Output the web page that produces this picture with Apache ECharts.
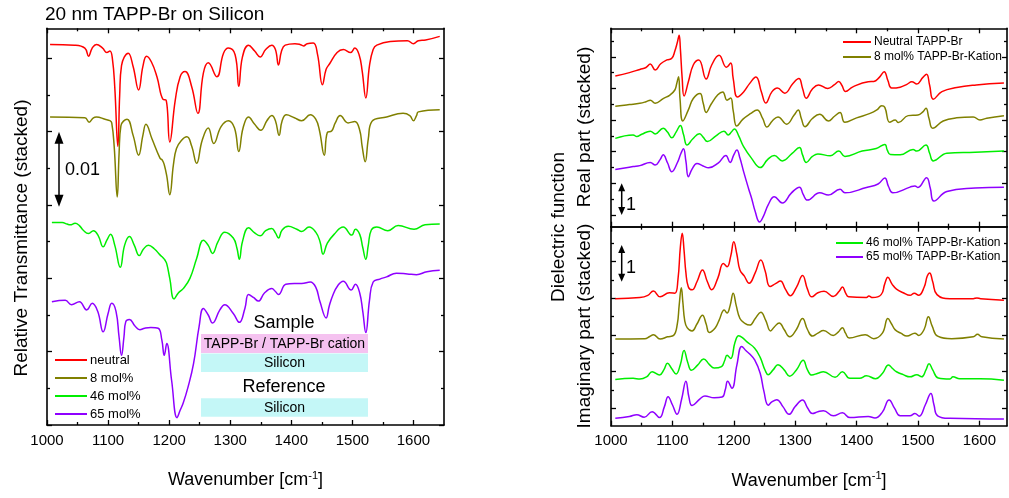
<!DOCTYPE html>
<html>
<head>
<meta charset="utf-8">
<script src="https://cdn.jsdelivr.net/npm/echarts@6/dist/echarts.min.js"></script>
<style>
  html, body { margin: 0; padding: 0; background: #fff; }
  #main { width: 1009px; height: 498px; }
</style>
</head>
<body>
<div id="main"></div>
<script>
// wavenumber ticks (cm-1)
var wnMajor = [1000, 1100, 1200, 1300, 1400, 1500, 1600];
var wnMinor = [1050, 1150, 1250, 1350, 1450, 1550];

// left: relative transmittance, stacked, in units of 0.01
var transNeutral = [[1005,5.19],[1045,5.18],[1062,5.14],[1068,5.03],[1074,5.14],[1081,5.19],[1091,5.14],[1098,5.08],[1103,5.10],[1107,5.00],[1111,4.60],[1116,3.80],[1119,4.50],[1122,4.90],[1133,5.07],[1141,4.89],[1150,4.57],[1157,4.89],[1163,5.03],[1171,4.95],[1180,4.75],[1190,4.44],[1195,4.43],[1201,3.86],[1210,4.43],[1218,4.75],[1226,4.82],[1237,4.61],[1247,4.25],[1256,4.80],[1264,4.94],[1278,4.75],[1289,5.07],[1297,5.14],[1308,5.05],[1314,4.62],[1320,5.02],[1330,5.18],[1340,5.10],[1349,5.02],[1358,5.12],[1368,5.18],[1374,5.12],[1379,4.91],[1384,5.10],[1390,5.18],[1406,5.20],[1414,5.19],[1420,5.17],[1426,5.20],[1436,5.21],[1443,5.05],[1451,4.64],[1457,4.85],[1463,4.93],[1475,5.08],[1485,5.12],[1497,5.08],[1504,5.14],[1511,5.05],[1516,4.83],[1522,4.46],[1528,4.90],[1534,5.12],[1540,5.18],[1562,5.23],[1590,5.24],[1600,5.20],[1608,5.24],[1620,5.25],[1643,5.30]];
var transMol8 = [[1005,4.20],[1062,4.19],[1069,4.13],[1076,4.19],[1081,4.20],[1095,4.17],[1103,4.15],[1106,4.12],[1110,3.80],[1115,3.11],[1118,3.70],[1121,4.08],[1131,4.17],[1141,3.95],[1150,3.68],[1157,3.95],[1162,4.10],[1172,3.90],[1185,3.64],[1189,3.61],[1192,3.55],[1196,3.40],[1201,3.14],[1207,3.55],[1212,3.77],[1220,3.88],[1229,3.93],[1237,3.80],[1245,3.57],[1254,3.88],[1264,4.05],[1273,3.84],[1285,4.07],[1297,4.15],[1307,4.05],[1314,3.73],[1321,4.05],[1330,4.20],[1340,4.10],[1350,4.02],[1360,4.15],[1368,4.22],[1374,4.15],[1380,3.95],[1385,4.15],[1392,4.23],[1405,4.19],[1417,4.15],[1431,4.23],[1440,4.17],[1446,4.02],[1454,3.68],[1459,3.99],[1466,4.01],[1472,4.12],[1480,4.22],[1493,4.12],[1504,4.14],[1512,4.02],[1516,3.80],[1521,3.59],[1526,3.90],[1532,4.14],[1556,4.20],[1583,4.25],[1594,4.22],[1600,4.15],[1605,4.22],[1608,4.27],[1643,4.30]];
var transMol46 = [[1008,2.76],[1025,2.76],[1033,2.74],[1038,2.73],[1046,2.75],[1053,2.72],[1059,2.66],[1068,2.61],[1076,2.65],[1084,2.58],[1092,2.43],[1098,2.52],[1104,2.60],[1111,2.45],[1120,2.15],[1127,2.45],[1135,2.57],[1143,2.45],[1151,2.31],[1158,2.40],[1166,2.45],[1176,2.40],[1185,2.32],[1190,2.28],[1193,2.25],[1196,2.20],[1201,2.00],[1208,1.72],[1215,1.80],[1223,1.86],[1234,2.00],[1245,2.27],[1256,2.52],[1264,2.45],[1271,2.34],[1280,2.50],[1291,2.63],[1305,2.55],[1311,2.41],[1315,2.26],[1320,2.50],[1330,2.69],[1340,2.62],[1349,2.58],[1358,2.65],[1368,2.68],[1374,2.62],[1379,2.55],[1385,2.66],[1395,2.71],[1409,2.67],[1417,2.64],[1429,2.70],[1440,2.63],[1447,2.50],[1452,2.33],[1459,2.48],[1470,2.60],[1485,2.70],[1499,2.59],[1505,2.67],[1512,2.60],[1517,2.42],[1522,2.26],[1526,2.45],[1531,2.66],[1540,2.70],[1558,2.65],[1575,2.72],[1601,2.67],[1619,2.73],[1643,2.74]];
var transMol65 = [[1008,1.68],[1030,1.70],[1040,1.64],[1053,1.68],[1065,1.57],[1074,1.66],[1083,1.55],[1092,1.27],[1100,1.52],[1106,1.66],[1113,1.55],[1118,1.20],[1122,0.95],[1126,1.20],[1129,1.41],[1135,1.44],[1144,1.35],[1152,1.30],[1160,1.32],[1170,1.33],[1182,1.32],[1188,1.16],[1192,0.95],[1196,1.11],[1204,0.61],[1213,0.10],[1218,0.20],[1223,0.30],[1231,0.52],[1240,0.84],[1249,1.34],[1256,1.59],[1264,1.50],[1271,1.39],[1283,1.57],[1291,1.64],[1305,1.52],[1315,1.40],[1324,1.59],[1330,1.78],[1338,1.74],[1346,1.69],[1356,1.80],[1368,1.86],[1374,1.82],[1379,1.78],[1391,1.92],[1405,1.93],[1417,1.93],[1431,1.95],[1440,1.88],[1447,1.68],[1457,1.46],[1462,1.62],[1468,1.77],[1476,1.90],[1485,1.96],[1498,1.84],[1505,1.92],[1512,1.80],[1517,1.55],[1522,1.26],[1528,1.70],[1534,1.95],[1545,1.99],[1556,2.02],[1572,2.07],[1590,2.06],[1605,2.05],[1622,2.09],[1643,2.11]];

// right top: real part of the dielectric function, stacked
var epsReNeutral = [[1007,4.39],[1030,4.50],[1047,4.60],[1057,4.66],[1064,4.77],[1072,4.58],[1081,4.78],[1091,4.90],[1099,4.95],[1104,5.18],[1108,5.45],[1111,5.68],[1113,5.25],[1116,4.30],[1119,3.76],[1126,4.21],[1134,4.74],[1143,4.90],[1155,4.30],[1164,4.74],[1176,5.05],[1188,4.67],[1195,4.80],[1199,4.32],[1206,3.73],[1216,3.89],[1226,4.16],[1236,4.36],[1245,3.89],[1252,3.54],[1262,3.89],[1271,4.01],[1283,3.85],[1296,4.15],[1306,4.31],[1312,4.00],[1318,3.69],[1328,3.98],[1338,4.11],[1353,4.00],[1364,4.12],[1371,4.22],[1376,4.10],[1382,3.90],[1394,4.05],[1419,4.21],[1428,4.22],[1437,4.35],[1445,4.53],[1451,4.25],[1457,4.01],[1471,4.04],[1482,4.13],[1490,4.21],[1498,4.14],[1508,4.35],[1514,4.45],[1519,4.10],[1525,3.66],[1539,3.90],[1563,4.03],[1595,4.11],[1640,4.17]];
var epsReMol8 = [[1007,3.44],[1030,3.49],[1047,3.53],[1057,3.58],[1064,3.63],[1072,3.53],[1085,3.68],[1096,3.79],[1104,3.95],[1107,4.15],[1110,4.37],[1112.5,3.65],[1117,2.97],[1126,3.32],[1134,3.68],[1145,3.84],[1150,3.55],[1155,3.24],[1163,3.50],[1174,3.80],[1182,3.89],[1189,3.63],[1195,3.70],[1199,3.30],[1205,2.81],[1215,3.03],[1227,3.20],[1238,3.32],[1247,3.05],[1254,2.78],[1263,2.98],[1272,3.10],[1286,2.87],[1298,3.15],[1305,3.32],[1310,3.05],[1316,2.79],[1328,3.05],[1340,3.18],[1354,2.97],[1364,3.12],[1373,3.24],[1381,2.93],[1400,3.07],[1422,3.21],[1433,3.32],[1441,3.45],[1446,3.40],[1454,2.93],[1463,3.00],[1468,2.92],[1484,3.14],[1500,3.16],[1508,3.26],[1513,3.37],[1518,3.05],[1524,2.74],[1541,2.97],[1563,3.07],[1590,3.10],[1601,3.00],[1612,3.06],[1640,3.14]];
var epsReMol46 = [[1007,2.42],[1036,2.53],[1042,2.48],[1050,2.55],[1064,2.65],[1072,2.56],[1085,2.74],[1092,2.62],[1099,2.44],[1106,2.62],[1113,2.83],[1118,2.55],[1124,2.21],[1133,2.40],[1144,2.57],[1150,2.46],[1157,2.32],[1171,2.50],[1184,2.65],[1191,2.53],[1196,2.62],[1201,2.72],[1208,2.50],[1216,2.16],[1229,1.79],[1243,1.50],[1255,1.75],[1266,1.88],[1279,1.71],[1295,1.95],[1307,2.13],[1312,1.90],[1318,1.66],[1328,1.85],[1337,1.93],[1357,1.87],[1371,2.02],[1381,1.85],[1409,2.02],[1432,2.10],[1446,2.23],[1450,2.05],[1455,1.91],[1471,1.90],[1492,2.07],[1498,2.02],[1513,2.21],[1519,1.95],[1525,1.71],[1547,1.95],[1593,1.98],[1640,2.02]];
var epsReMol65 = [[1007,1.44],[1036,1.53],[1047,1.56],[1064,1.66],[1072,1.58],[1080,1.75],[1085,1.90],[1092,1.65],[1099,1.37],[1108,1.65],[1114,1.95],[1118,2.09],[1122,1.70],[1126,1.21],[1132,1.45],[1140,1.63],[1150,1.55],[1159,1.49],[1175,1.65],[1187,1.88],[1194,1.66],[1200,1.90],[1205,2.05],[1210,1.80],[1216,1.37],[1224,0.84],[1229,0.53],[1235,0.10],[1242,-0.22],[1248,-0.05],[1256,0.32],[1266,0.58],[1279,0.38],[1294,0.70],[1307,0.88],[1313,0.65],[1320,0.47],[1340,0.70],[1354,0.63],[1373,0.81],[1381,0.70],[1416,0.87],[1435,0.98],[1446,1.17],[1452,0.90],[1459,0.70],[1487,0.88],[1495,0.92],[1500,0.87],[1514,1.18],[1520,0.85],[1526,0.44],[1547,0.74],[1593,0.85],[1640,0.88]];

// right bottom: imaginary part of the dielectric function, stacked
var epsImNeutral = [[1007,2.99],[1047,3.02],[1060,3.08],[1069,3.20],[1080,3.04],[1095,3.15],[1104,3.14],[1109,3.50],[1113,4.40],[1116,4.77],[1119,4.30],[1122,3.70],[1126,3.31],[1132,3.23],[1140,3.45],[1149,3.77],[1157,3.45],[1164,3.23],[1174,3.55],[1183,3.95],[1189,3.86],[1195,4.15],[1200,4.54],[1205,4.20],[1210,3.77],[1217,3.61],[1225,3.41],[1235,3.70],[1244,4.04],[1251,3.75],[1259,3.32],[1268,3.40],[1276,3.47],[1284,3.25],[1292,3.07],[1302,3.30],[1312,3.62],[1320,3.25],[1327,3.04],[1337,3.15],[1347,3.19],[1362,3.05],[1372,3.20],[1377,3.31],[1382,3.15],[1387,3.04],[1416,3.02],[1420,3.06],[1426,3.02],[1440,3.10],[1446,3.40],[1451,3.57],[1458,3.38],[1465,3.25],[1476,3.15],[1487,3.08],[1494,3.14],[1501,3.08],[1510,3.30],[1515,3.60],[1519,3.69],[1524,3.45],[1531,3.10],[1552,2.99],[1590,2.99],[1596,3.01],[1602,2.99],[1640,2.95]];
var epsImMol8 = [[1007,1.89],[1055,1.90],[1063,1.96],[1069,2.01],[1080,1.89],[1092,1.95],[1102,1.99],[1108,2.30],[1111,2.80],[1114.5,3.29],[1117,2.90],[1120,2.40],[1124,2.20],[1132,2.11],[1140,2.30],[1149,2.54],[1155,2.30],[1160,2.07],[1170,2.20],[1176,2.40],[1184.5,2.68],[1189,2.60],[1194,2.80],[1199,3.14],[1204,2.80],[1210,2.45],[1218,2.32],[1226,2.27],[1235,2.45],[1244,2.62],[1252,2.40],[1260,2.11],[1266,2.22],[1274,2.33],[1282,2.15],[1291,1.95],[1302,2.15],[1312,2.45],[1320,2.15],[1328,1.97],[1337,2.05],[1346,2.12],[1362,1.99],[1370,2.08],[1377,2.20],[1382,2.05],[1388,1.92],[1414,2.01],[1428,1.90],[1442,2.05],[1451,2.45],[1457,2.30],[1463,2.14],[1472,2.05],[1482,1.97],[1495,2.05],[1501,1.99],[1510,2.15],[1517,2.50],[1523,2.25],[1532,1.97],[1555,1.90],[1590,1.95],[1597,2.02],[1604,1.95],[1640,1.89]];
var epsImMol46 = [[1007,0.79],[1036,0.82],[1047,0.80],[1058,0.86],[1067,1.00],[1079,0.91],[1086,1.05],[1092,1.23],[1099,1.08],[1106,0.94],[1113,1.20],[1119,1.58],[1125,1.25],[1131,1.04],[1141,1.18],[1151,1.35],[1160,1.20],[1168,1.10],[1180,1.14],[1185,1.30],[1189,1.45],[1195,1.36],[1202,1.80],[1208,1.98],[1214,1.93],[1221,1.82],[1234,1.64],[1243,1.39],[1251,1.04],[1256,0.92],[1264,1.05],[1272,1.19],[1282,1.05],[1291,0.88],[1302,1.05],[1313,1.31],[1320,1.05],[1327,0.91],[1337,0.96],[1346,1.00],[1365,0.85],[1377,1.00],[1389,0.82],[1405,0.82],[1416,0.89],[1431,0.81],[1442,0.95],[1452,1.18],[1459,1.08],[1465,1.00],[1476,0.92],[1487,0.86],[1498,0.92],[1506,0.86],[1513,1.05],[1518,1.22],[1524,1.05],[1533,0.83],[1552,0.80],[1557,0.86],[1568,0.81],[1601,0.81],[1640,0.77]];
var epsImMol65 = [[1007,-0.27],[1030,-0.22],[1042,-0.17],[1054,-0.24],[1067,-0.09],[1079,-0.25],[1087,0.05],[1093,0.32],[1100,0.10],[1107.5,-0.16],[1115,0.25],[1122,0.74],[1127,0.30],[1132,0.08],[1145,0.26],[1153,0.34],[1168,0.29],[1181,0.31],[1186,0.50],[1190,0.74],[1197,0.55],[1205,1.18],[1213,1.69],[1220,1.57],[1226,1.48],[1234,1.32],[1243,0.96],[1249,0.47],[1256,0.09],[1262,0.18],[1270,0.24],[1280,0.05],[1290,-0.16],[1300,0.05],[1312,0.23],[1320,0.02],[1328,-0.14],[1337,-0.09],[1346,-0.06],[1362,-0.20],[1377,-0.12],[1389,-0.25],[1419,-0.22],[1430,-0.26],[1442,-0.10],[1453,0.23],[1462,0.00],[1471,-0.20],[1487,-0.20],[1495,-0.14],[1502,-0.21],[1512,0.10],[1521,0.41],[1526,0.10],[1532,-0.20],[1552,-0.27],[1640,-0.29]];

var leftNames = ['neutral', '8 mol%', '46 mol%', '65 mol%'];
var rightNames = ['Neutral TAPP-Br', '8 mol% TAPP-Br-Kation', '46 mol% TAPP-Br-Kation', '65 mol% TAPP-Br-Kation'];
var colors = ['#ff0000', '#808000', '#00ee00', '#8f00ff'];

var FONT = '"Liberation Sans", Arial, sans-serif';

var chart = echarts.init(document.getElementById('main'), null, { renderer: 'canvas' });

function tickAxis(grid, pos, min, max, values, len, withLine, label, extra) {
  var ax = {
    type: 'value', gridIndex: grid, position: pos, min: min, max: max,
    splitLine: { show: false },
    axisLine: { show: withLine, onZero: false, lineStyle: { color: '#000', width: 1.6 } },
    axisTick: { show: true, inside: true, length: len, customValues: values, lineStyle: { color: '#000', width: 1.3 } },
    axisLabel: label ? Object.assign({ show: true, customValues: values }, label) : { show: false },
    axisPointer: { show: false }
  };
  return Object.assign(ax, extra || {});
}

var tickLabel = {
  fontSize: 15, fontFamily: FONT, color: '#000', margin: 8,
  formatter: function (v) { return String(v); }
};
var xName = {
  name: 'Wavenumber [cm{sup|-1}]',
  nameLocation: 'middle',
  nameGap: 45,
  nameTextStyle: {
    fontSize: 18, fontFamily: FONT, color: '#000', verticalAlign: 'top',
    rich: { sup: { fontSize: 11, fontFamily: FONT, color: '#000', padding: [0, 0, 9, 0] } }
  }
};

var xAxes = [], yAxes = [];
function frame(grid, xMax, yMin, yMax, yMajor, yMinor, labels) {
  xAxes.push(tickAxis(grid, 'bottom', 1000, xMax, wnMajor, 5, true, labels ? tickLabel : null, labels ? xName : null));
  xAxes.push(tickAxis(grid, 'bottom', 1000, xMax, wnMinor, 3, false, null));
  xAxes.push(tickAxis(grid, 'top', 1000, xMax, wnMajor, 5, true, null));
  xAxes.push(tickAxis(grid, 'top', 1000, xMax, wnMinor, 3, false, null));
  yAxes.push(tickAxis(grid, 'left', yMin, yMax, yMajor, 5, true, null));
  yAxes.push(tickAxis(grid, 'left', yMin, yMax, yMinor, 3, false, null));
  yAxes.push(tickAxis(grid, 'right', yMin, yMax, yMajor, 5, true, null));
  yAxes.push(tickAxis(grid, 'right', yMin, yMax, yMinor, 3, false, null));
}
frame(0, 1650, 0, 5.41, [0, 1, 2, 3, 4, 5], [0.5, 1.5, 2.5, 3.5, 4.5], true);
frame(1, 1645, -0.37, 5.9, [0, 1, 2, 3, 4, 5], [0.5, 1.5, 2.5, 3.5, 4.5, 5.5], false);
frame(2, 1645, -0.47, 4.95, [0, 1, 2, 3, 4], [0.5, 1.5, 2.5, 3.5, 4.5], true);

function line(name, data, color, grid) {
  return {
    type: 'line', name: name, data: data,
    xAxisIndex: grid * 4, yAxisIndex: grid * 4,
    showSymbol: false, symbol: 'none',
    smooth: 0.45,
    lineStyle: { color: color, width: 1.5 },
    itemStyle: { color: color },
    animation: false
  };
}

var series = [
  line(leftNames[0], transNeutral, colors[0], 0),
  line(leftNames[1], transMol8, colors[1], 0),
  line(leftNames[2], transMol46, colors[2], 0),
  line(leftNames[3], transMol65, colors[3], 0),
  line(rightNames[0], epsReNeutral, colors[0], 1),
  line(rightNames[1], epsReMol8, colors[1], 1),
  line(rightNames[2], epsReMol46, colors[2], 1),
  line(rightNames[3], epsReMol65, colors[3], 1),
  line(rightNames[0], epsImNeutral, colors[0], 2),
  line(rightNames[1], epsImMol8, colors[1], 2),
  line(rightNames[2], epsImMol46, colors[2], 2),
  line(rightNames[3], epsImMol65, colors[3], 2)
];

function legend(names, left, top, width, gap, size) {
  return {
    data: names, orient: 'vertical', left: left, top: top,
    icon: 'rect', itemWidth: width, itemHeight: 2, itemGap: gap,
    selectedMode: false, padding: 0,
    textStyle: { fontSize: size, fontFamily: FONT, color: '#000', lineHeight: size + 1, padding: [0, 0, 0, -2] }
  };
}

function vArrow(x, y1, y2, h, w) {
  return [
    { type: 'line', shape: { x1: x, y1: y1 + h - 1, x2: x, y2: y2 - h + 1 }, style: { stroke: '#000', lineWidth: 1.5 } },
    { type: 'polygon', shape: { points: [[x, y1], [x - w, y1 + h], [x + w, y1 + h]] }, style: { fill: '#000' } },
    { type: 'polygon', shape: { points: [[x, y2], [x - w, y2 - h], [x + w, y2 - h]] }, style: { fill: '#000' } }
  ];
}

function label(text, x, y, size, rotate, align) {
  return {
    type: 'text', x: x, y: y, rotation: rotate ? Math.PI / 2 : 0,
    style: { text: text, fontSize: size, fontFamily: FONT, fill: '#000', align: align || 'center', verticalAlign: 'middle' },
    z: 10
  };
}

function box(x, y, w, h, fill, text) {
  return [
    { type: 'rect', shape: { x: x, y: y, width: w, height: h }, style: { fill: fill }, z: 5 },
    label(text, x + w / 2, y + h / 2 + 0.5, 14)
  ];
}

var graphic = [].concat(
  [label('20 nm TAPP-Br on Silicon', 45, 15, 19, false, 'left')],
  [label('Relative Transmittance (stacked)', 22, 238, 19, true)],
  [label('Dielectric function', 559, 227, 19, true)],
  [label('Real part (stacked)', 585, 127, 19, true)],
  [label('Imaginary part (stacked)', 585, 326, 19, true)],
  vArrow(59, 131.7, 206.7, 12, 4.5),
  [label('0.01', 65, 170, 18, false, 'left')],
  vArrow(621.7, 183.3, 215, 8, 3.5),
  [label('1', 626, 205, 18, false, 'left')],
  vArrow(621.7, 245, 281.7, 8, 3.5),
  [label('1', 626, 268, 18, false, 'left')],
  [label('Sample', 284, 323, 18)],
  box(201, 334, 167, 19, '#f5c2f0', 'TAPP-Br / TAPP-Br cation'),
  box(201, 353.5, 167, 18.5, '#c4f7f7', 'Silicon'),
  [label('Reference', 284, 387, 18)],
  box(201, 398.3, 167, 18.5, '#c4f7f7', 'Silicon')
);

var option = {
  backgroundColor: '#fff',
  animation: false,
  grid: [
    { left: 47, top: 28.3, width: 397, height: 396.7, outerBoundsMode: 'none' },
    { left: 611, top: 28.3, width: 396, height: 198.4, outerBoundsMode: 'none' },
    { left: 611, top: 226.7, width: 396, height: 199, outerBoundsMode: 'none' }
  ],
  xAxis: xAxes,
  yAxis: yAxes,
  legend: [
    legend(leftNames, 55, 353, 32, 4, 13),
    legend(rightNames.slice(0, 2), 843, 35.5, 28, 2, 12),
    legend(rightNames.slice(2, 4), 836, 236.5, 27, 1, 12)
  ],
  graphic: graphic,
  series: series
};
chart.setOption(option);
</script>
</body>
</html>
